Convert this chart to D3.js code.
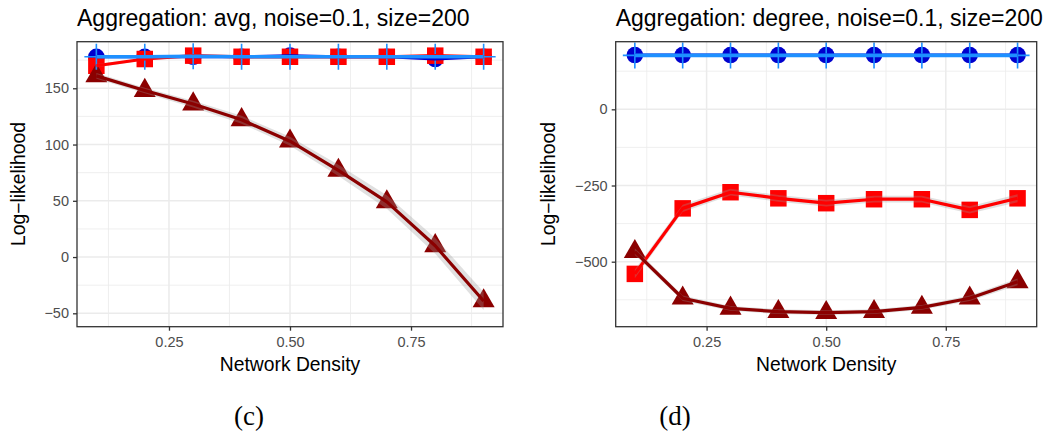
<!DOCTYPE html>
<html>
<head>
<meta charset="utf-8">
<script src="https://cdn.jsdelivr.net/npm/d3@7"></script>
<style>
  body { margin: 0; background: #fff; }
  svg { display: block; font-family: "Liberation Sans", Arial, sans-serif; }
</style>
</head>
<body>
<div id="chart"></div>
<script>
// network density on the x axis (same for both panels)
const density = [0.1, 0.2, 0.3, 0.4, 0.5, 0.6, 0.7, 0.8, 0.9];
const xTicks = [0.25, 0.5, 0.75];
const xMinor = [0.125, 0.375, 0.625, 0.875];

// panel (c): aggregation avg
const avgBlue = [178, 178, 178, 178, 179, 178, 178, 176, 178];
const avgRed = [170, 176, 179, 178, 178, 178, 178, 179, 178];
const avgDarkred = [161, 148, 136, 122, 103, 77, 49, 10, -39];
const avgDodger = [178, 178, 178.5, 178, 178, 178, 178, 178, 178];
const avgRedSe = [1.5, 1, 1, 1, 1, 1, 1, 1, 1];
const avgDarkredSe = [2.5, 2.5, 3, 3.5, 4, 5, 6, 7, 8];
const avgYTicks = [-50, 0, 50, 100, 150];
const avgYMinor = [-25, 25, 75, 125, 175];

// panel (d): aggregation degree
const degBlue = [178, 178, 178, 178, 178, 178, 178, 178, 178];
const degRed = [-540, -325, -272, -292, -308, -295, -295, -330, -292];
const degDarkred = [-467, -620, -653, -664, -667, -664, -650, -620, -566];
const degDodger = [177, 177, 177, 177, 177, 177, 177, 177, 177];
const degRedSe = [14, 12, 11, 11, 11, 11, 11, 12, 13];
const degDarkredSe = [11, 9, 8, 8, 8, 8, 8, 9, 11];
const degYTicks = [-500, -250, 0];
const degYMinor = [-625, -375, -125, 125];

const width = 1055;
const height = 437;

const svg = d3
  .select("#chart")
  .append("svg")
  .attr("width", width)
  .attr("height", height);

const fmtX = (d) => d3.format(".2f")(d);
const fmtY = (d) => (d < 0 ? "\u2212" + Math.abs(d) : String(d));

function panel(opts) {
  const x = d3.scaleLinear().domain([0.06, 0.94]).range([opts.left, opts.right]);
  const y = d3.scaleLinear().domain(opts.yDomain).range([326.7, 41.7]);
  const g = svg.append("g");

  // minor grid
  g.selectAll(".xminor")
    .data(xMinor)
    .join("line")
    .attr("x1", (d) => x(d))
    .attr("x2", (d) => x(d))
    .attr("y1", y.range()[0])
    .attr("y2", y.range()[1])
    .attr("stroke", "#EBEBEB")
    .attr("stroke-width", 0.8);
  g.selectAll(".yminor")
    .data(opts.yMinor)
    .join("line")
    .attr("x1", opts.left)
    .attr("x2", opts.right)
    .attr("y1", (d) => y(d))
    .attr("y2", (d) => y(d))
    .attr("stroke", "#EBEBEB")
    .attr("stroke-width", 0.8);

  // major grid
  g.append("g")
    .selectAll("line")
    .data(xTicks)
    .join("line")
    .attr("x1", (d) => x(d))
    .attr("x2", (d) => x(d))
    .attr("y1", y.range()[0])
    .attr("y2", y.range()[1])
    .attr("stroke", "#EBEBEB")
    .attr("stroke-width", 1.5);
  g.append("g")
    .selectAll("line")
    .data(opts.yTicks)
    .join("line")
    .attr("x1", opts.left)
    .attr("x2", opts.right)
    .attr("y1", (d) => y(d))
    .attr("y2", (d) => y(d))
    .attr("stroke", "#EBEBEB")
    .attr("stroke-width", 1.5);

  const pts = (vals) => density.map((d, i) => ({ x: d, y: vals[i] }));

  // points: circles, squares, triangles, plus
  g.append("g")
    .selectAll("path")
    .data(pts(opts.blue))
    .join("path")
    .attr("transform", (d) => `translate(${x(d.x)},${y(d.y)})`)
    .attr("d", d3.symbol(d3.symbolCircle, 216))
    .attr("fill", "#0000CD");
  g.append("g")
    .selectAll("path")
    .data(pts(opts.red))
    .join("path")
    .attr("transform", (d) => `translate(${x(d.x)},${y(d.y)})`)
    .attr("d", d3.symbol(d3.symbolSquare, 272))
    .attr("fill", "#FF0000");
  g.append("g")
    .selectAll("path")
    .data(pts(opts.darkred))
    .join("path")
    .attr("transform", (d) => `translate(${x(d.x)},${y(d.y)})`)
    .attr("d", d3.symbol(d3.symbolTriangle, 210))
    .attr("fill", "#8B0000");
  g.append("g")
    .selectAll("path")
    .data(pts(opts.dodger))
    .join("path")
    .attr("transform", (d) => `translate(${x(d.x)},${y(d.y)})`)
    .attr("d", "M-12,0H12M0,-13V13")
    .attr("stroke", "#1E90FF")
    .attr("stroke-width", 1.6)
    .attr("fill", "none");

  // smooth lines with ribbons
  const series = [
    { vals: opts.blue, se: opts.blue.map(() => 1), color: "#0000CD", w: 3 },
    { vals: opts.red, se: opts.redSe, color: "#FF0000", w: 3.2 },
    { vals: opts.darkred, se: opts.darkredSe, color: "#8B0000", w: 3.2 },
    { vals: opts.dodger, se: opts.dodger.map(() => 1), color: "#1E90FF", w: 3.6 },
  ];
  const area = d3
    .area()
    .x((d) => x(d.x))
    .y0((d) => y(d.y - d.se))
    .y1((d) => y(d.y + d.se));
  const line = d3
    .line()
    .x((d) => x(d.x))
    .y((d) => y(d.y));
  series.forEach((s) => {
    const rows = density.map((d, i) => ({ x: d, y: s.vals[i], se: s.se[i] }));
    g.append("path")
      .datum(rows)
      .attr("d", area)
      .attr("fill", "#999999")
      .attr("fill-opacity", 0.3);
    g.append("path")
      .datum(rows)
      .attr("d", line)
      .attr("fill", "none")
      .attr("stroke", s.color)
      .attr("stroke-width", s.w)
      .attr("stroke-linejoin", "round");
  });

  // border
  g.append("rect")
    .attr("x", opts.left)
    .attr("y", 41.7)
    .attr("width", opts.right - opts.left)
    .attr("height", 326.7 - 41.7)
    .attr("fill", "none")
    .attr("stroke", "#333333")
    .attr("stroke-width", 1.3);

  // axes
  const xAxis = g
    .append("g")
    .attr("transform", `translate(0,326.7)`)
    .call(
      d3.axisBottom(x).tickValues(xTicks).tickFormat(fmtX).tickSize(4).tickPadding(6).tickSizeOuter(0)
    );
  const yAxis = g
    .append("g")
    .attr("transform", `translate(${opts.left},0)`)
    .call(
      d3.axisLeft(y).tickValues(opts.yTicks).tickFormat(fmtY).tickSize(4).tickPadding(4).tickSizeOuter(0)
    );
  [xAxis, yAxis].forEach((a) => {
    a.select(".domain").remove();
    a.selectAll(".tick line").attr("stroke", "#333333").attr("stroke-width", 1.3);
    a.selectAll(".tick text")
      .attr("fill", "#4D4D4D")
      .style("font-size", "14.5px")
      .style("font-family", '"Liberation Sans", Arial, sans-serif');
  });

  // titles
  g.append("text")
    .attr("x", opts.left)
    .attr("y", 26)
    .style("font-size", "23px")
    .text(opts.title);
  g.append("text")
    .attr("x", (opts.left + opts.right) / 2)
    .attr("y", 371)
    .attr("text-anchor", "middle")
    .style("font-size", "19.3px")
    .text("Network Density");
  g.append("text")
    .attr("transform", `translate(${opts.yTitleX},184) rotate(-90)`)
    .attr("dy", "0.35em")
    .attr("text-anchor", "middle")
    .style("font-size", "19.3px")
    .text("Log\u2212likelihood");
  g.append("text")
    .attr("x", opts.captionX)
    .attr("y", 425)
    .attr("text-anchor", "middle")
    .style("font-family", '"Liberation Serif", "Times New Roman", serif')
    .style("font-size", "27px")
    .text(opts.caption);
}

panel({
  left: 77,
  right: 503,
  yDomain: [-61.9, 191.4],
  yTicks: avgYTicks,
  yMinor: avgYMinor,
  blue: avgBlue,
  red: avgRed,
  darkred: avgDarkred,
  dodger: avgDodger,
  redSe: avgRedSe,
  darkredSe: avgDarkredSe,
  title: "Aggregation: avg, noise=0.1, size=200",
  yTitleX: 18.5,
  caption: "(c)",
  captionX: 249,
});

panel({
  left: 615.7,
  right: 1036.7,
  yDomain: [-713.3, 221.9],
  yTicks: degYTicks,
  yMinor: degYMinor,
  blue: degBlue,
  red: degRed,
  darkred: degDarkred,
  dodger: degDodger,
  redSe: degRedSe,
  darkredSe: degDarkredSe,
  title: "Aggregation: degree, noise=0.1, size=200",
  yTitleX: 548.3,
  caption: "(d)",
  captionX: 675,
});
</script>
</body>
</html>
